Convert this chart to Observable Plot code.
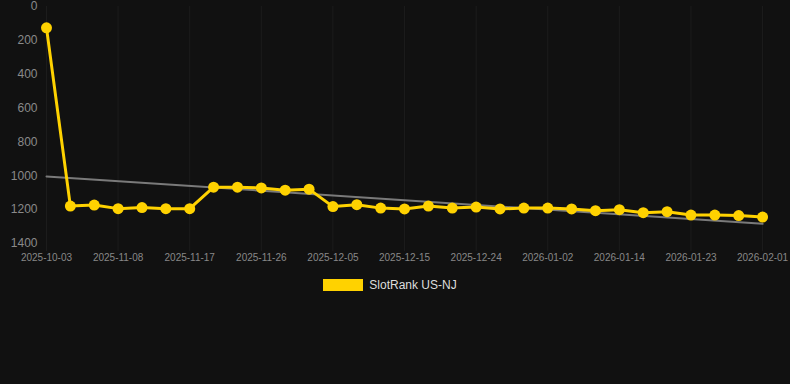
<!DOCTYPE html>
<html>
<head>
<meta charset="utf-8">
<script src="https://cdn.jsdelivr.net/npm/d3@7"></script>
<script src="https://cdn.jsdelivr.net/npm/@observablehq/plot@0.6"></script>
<style>
  html, body { margin: 0; padding: 0; background: #111111; }
  body { width: 790px; height: 384px; overflow: hidden; font-family: "Liberation Sans", Arial, sans-serif; }
  #legend { display: flex; justify-content: center; align-items: center; margin-top: 8px; position: relative; left: -5px; color: #dddddd; font-size: 12px; }
  #legend .sw { width: 40px; height: 12px; background: #FFD200; margin-right: 6px; }
</style>
</head>
<body>
<div id="chart"></div>
<div id="legend"><div class="sw"></div><span>SlotRank US-NJ</span></div>
<script>
const dates = [
  "2025-10-03","2025-10-30","2025-11-04","2025-11-08","2025-11-11","2025-11-14",
  "2025-11-17","2025-11-20","2025-11-23","2025-11-26","2025-11-29","2025-12-02",
  "2025-12-05","2025-12-08","2025-12-12","2025-12-15","2025-12-18","2025-12-21",
  "2025-12-24","2025-12-27","2025-12-30","2026-01-02","2026-01-06","2026-01-10",
  "2026-01-14","2026-01-17","2026-01-20","2026-01-23","2026-01-26","2026-01-29",
  "2026-02-01"
];
const ranks = [
  126,1179,1173,1194,1188,1194,1194,1067,1067,1072,1085,1079,
  1182,1171,1191,1196,1179,1191,1185,1196,1191,1191,1196,1206,
  1200,1218,1212,1232,1232,1235,1244
];
const yTicks = [0,200,400,600,800,1000,1200,1400];
const seriesName = "SlotRank US-NJ";

const data = dates.map((d, i) => ({i, date: d, rank: ranks[i]}));
const xTicks = d3.range(0, dates.length, 3);

const chart = Plot.plot({
  width: 790,
  height: 270,
  marginLeft: 46,
  marginRight: 0,
  marginTop: 6,
  marginBottom: 27,
  style: {background: "#111111", fontFamily: "'Liberation Sans', Arial, sans-serif", overflow: "visible"},
  x: {domain: [0, 31.17], ticks: xTicks, tickFormat: i => dates[i], label: null},
  y: {domain: [0, 1400], reverse: true, ticks: yTicks, label: null},
  marks: [
    Plot.gridY(yTicks, {stroke: "#1f1f1f", strokeOpacity: 1, x1: 40, x2: 790}),
    Plot.gridX(xTicks, {stroke: "#1c1c1c", strokeOpacity: 1, y1: 0, y2: 1400}),
    Plot.axisY(yTicks, {tickSize: 0, tickPadding: 9, fill: "#8a8a8a", fontSize: 12, stroke: null, tickFormat: d => String(d)}),
    Plot.axisX(xTicks, {tickSize: 8, stroke: "#1c1c1c", tickPadding: 2, fill: "#888888", fontSize: 10, tickFormat: i => dates[i]}),
    Plot.linearRegressionY(data, {x: "i", y: "rank", ci: 0, stroke: "#7a7a7a", strokeWidth: 2}),
    Plot.line(data, {x: "i", y: "rank", stroke: "#FFD200", strokeWidth: 3}),
    Plot.dot(data, {x: "i", y: "rank", r: 5.5, fill: "#FFD200", stroke: "none"})
  ]
});
document.getElementById("chart").appendChild(chart);
document.querySelector("#legend span").textContent = seriesName;
</script>
</body>
</html>
